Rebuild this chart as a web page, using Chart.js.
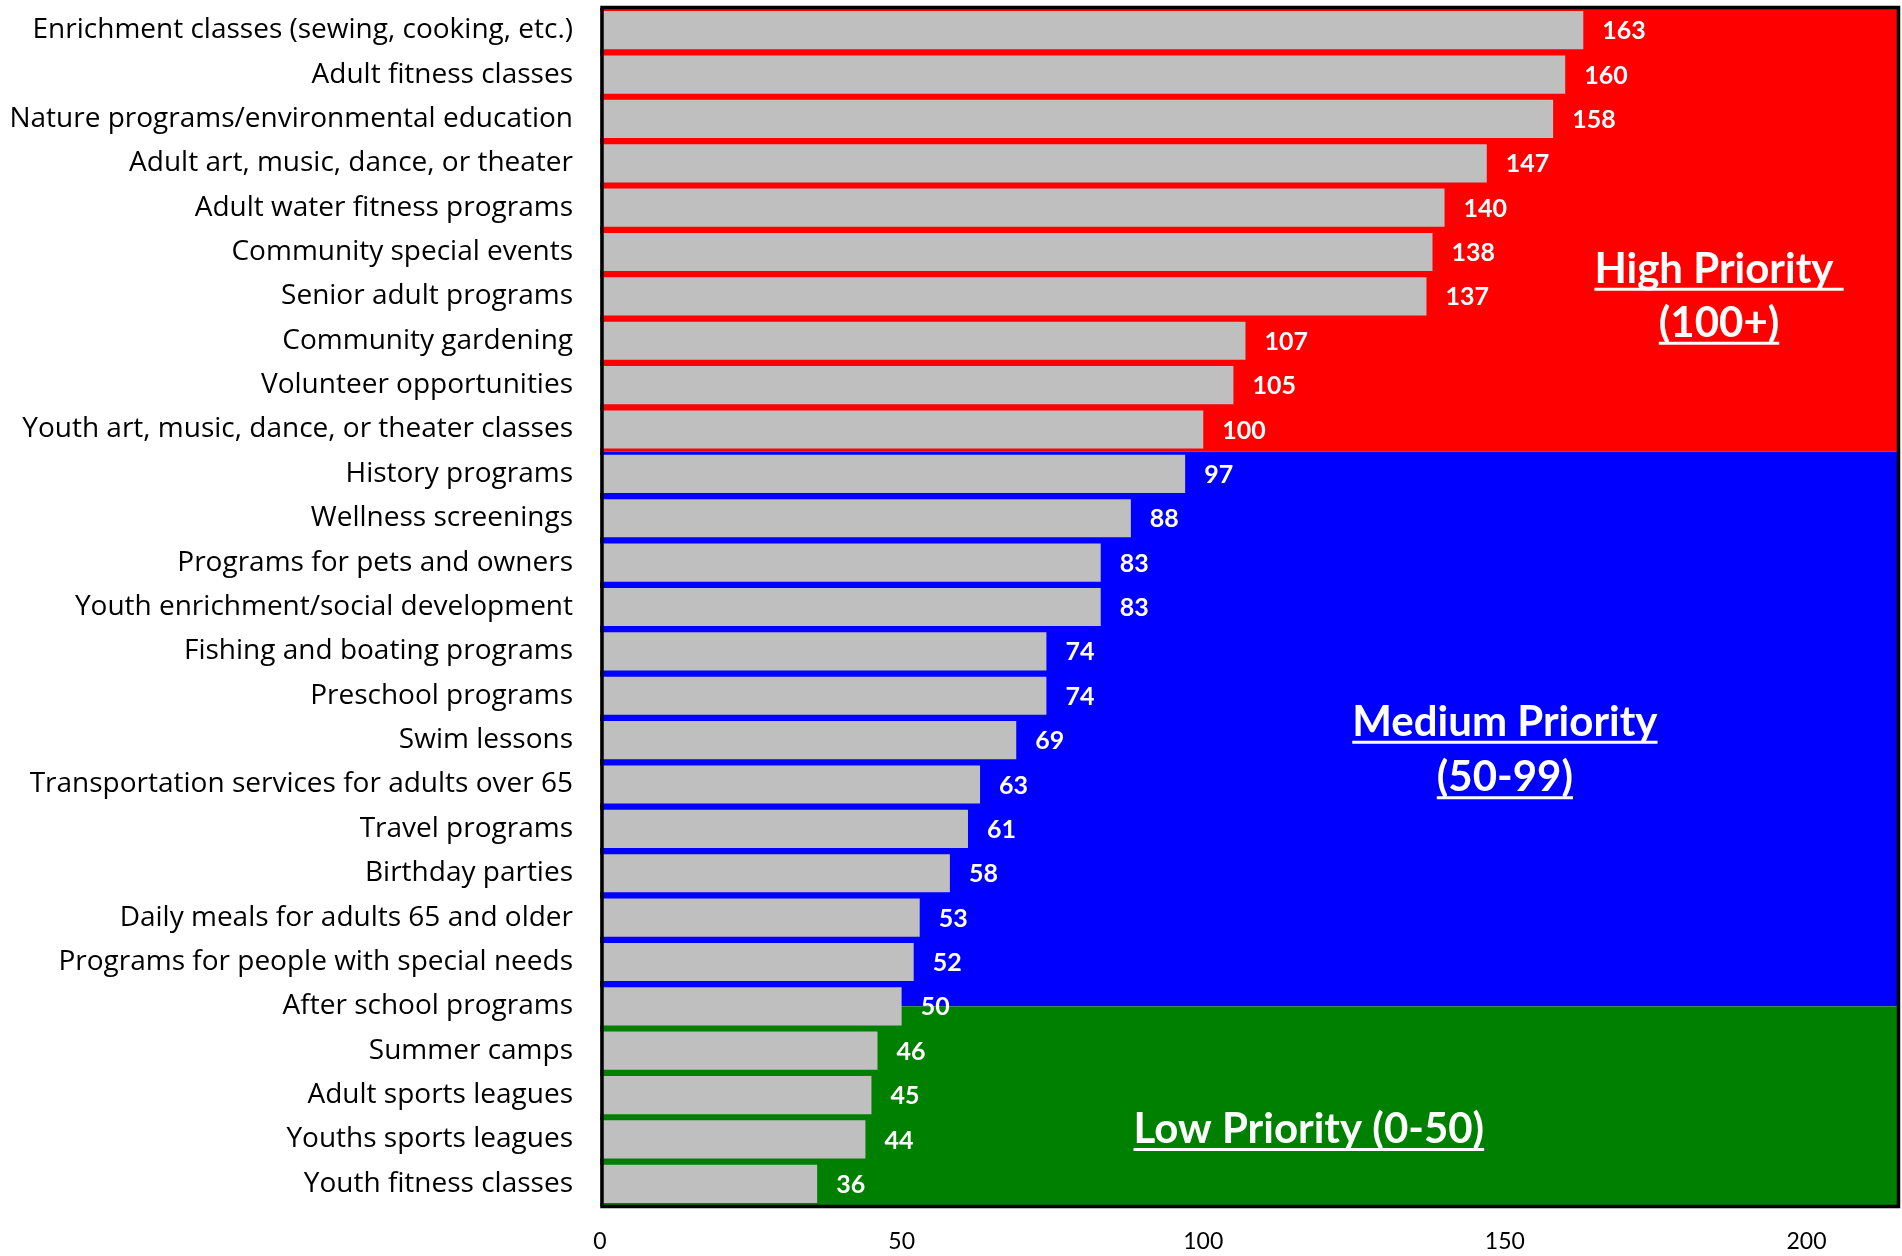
<!DOCTYPE html>
<html>
<head>
<meta charset="utf-8">
<script src="https://cdn.jsdelivr.net/npm/chart.js@4"></script>
<style>
  html, body { margin: 0; padding: 0; background: #fff; }
  #wrap { width: 1902px; height: 1256px; }
</style>
</head>
<body>
<div id="wrap"><canvas id="chart"></canvas></div>
<script>
// data
const programs = [
  'Enrichment classes (sewing, cooking, etc.)',
  'Adult fitness classes',
  'Nature programs/environmental education',
  'Adult art, music, dance, or theater',
  'Adult water fitness programs',
  'Community special events',
  'Senior adult programs',
  'Community gardening',
  'Volunteer opportunities',
  'Youth art, music, dance, or theater classes',
  'History programs',
  'Wellness screenings',
  'Programs for pets and owners',
  'Youth enrichment/social development',
  'Fishing and boating programs',
  'Preschool programs',
  'Swim lessons',
  'Transportation services for adults over 65',
  'Travel programs',
  'Birthday parties',
  'Daily meals for adults 65 and older',
  'Programs for people with special needs',
  'After school programs',
  'Summer camps',
  'Adult sports leagues',
  'Youths sports leagues',
  'Youth fitness classes'
];
const votes = [163, 160, 158, 147, 140, 138, 137, 107, 105, 100, 97, 88, 83, 83, 74, 74, 69, 63, 61, 58, 53, 52, 50, 46, 45, 44, 36];
const xTicks = [0, 50, 100, 150, 200];
const highMin = 100;
const mediumMin = 50;

const FONT = 'Lato, "Open Sans", sans-serif';
const LABEL_FONT = '"Open Sans", sans-serif';

// coloured priority bands behind the bars
const bandsPlugin = {
  id: 'bands',
  beforeDatasetsDraw(chart) {
    const { ctx, chartArea: a, scales: { y } } = chart;
    let lastHigh = -1, lastMed = -1;
    votes.forEach((v, i) => {
      if (v >= highMin) lastHigh = i;
      if (v >= mediumMin) lastMed = i;
    });
    const yHigh = (y.getPixelForValue(lastHigh) + y.getPixelForValue(lastHigh + 1)) / 2;
    const yMed = y.getPixelForValue(lastMed);
    ctx.save();
    ctx.fillStyle = '#FF0000';
    ctx.fillRect(a.left, a.top, a.width, yHigh - a.top);
    ctx.fillStyle = '#0000FF';
    ctx.fillRect(a.left, yHigh, a.width, yMed - yHigh);
    ctx.fillStyle = '#008000';
    ctx.fillRect(a.left, yMed, a.width, a.bottom - yMed);
    ctx.restore();
  }
};

// value labels, frame and priority notes
const notes = [
  { lines: ['High Priority ', '(100+)'], x: 185.5, at: [5.69, 6.91] },
  { lines: ['Medium Priority', '(50-99)'], x: 150, at: [15.9, 17.15] },
  { lines: ['Low Priority (0-50)'], x: 117.5, at: [25.08] }
];

const overlayPlugin = {
  id: 'overlay',
  afterDatasetsDraw(chart) {
    const { ctx, chartArea: a, scales: { x, y } } = chart;
    ctx.save();
    // value labels
    ctx.font = 'bold 25px ' + FONT;
    ctx.fillStyle = '#fff';
    ctx.textAlign = 'left';
    ctx.textBaseline = 'middle';
    chart.getDatasetMeta(0).data.forEach((bar, i) => {
      ctx.fillText(String(votes[i]), bar.x + 19, bar.y + 1);
    });
    // priority notes
    ctx.font = 'bold 42px ' + FONT;
    ctx.textAlign = 'center';
    ctx.textBaseline = 'alphabetic';
    ctx.strokeStyle = '#fff';
    ctx.lineWidth = 3;
    notes.forEach(n => {
      const cx = x.getPixelForValue(n.x);
      n.lines.forEach((t, k) => {
        const by = y.getPixelForValue(n.at[k]);
        ctx.fillText(t, cx, by);
        const w = ctx.measureText(t).width;
        ctx.beginPath();
        ctx.moveTo(cx - w / 2, by + 6.5);
        ctx.lineTo(cx + w / 2, by + 6.5);
        ctx.stroke();
      });
    });
    // frame
    ctx.strokeStyle = '#000';
    ctx.lineWidth = 3.5;
    ctx.strokeRect(a.left + 2, a.top - 0.5, a.width - 0.5, a.height + 1);
    ctx.restore();
  }
};

new Chart(document.getElementById('chart'), {
  type: 'bar',
  data: {
    labels: programs,
    datasets: [{
      data: votes,
      backgroundColor: '#BFBFBF',
      borderWidth: 0,
      barPercentage: 0.86,
      categoryPercentage: 1
    }]
  },
  options: {
    indexAxis: 'y',
    responsive: true,
    maintainAspectRatio: false,
    animation: false,
    layout: { padding: { top: 8, right: 5, left: 0, bottom: 0 } },
    plugins: { legend: { display: false }, tooltip: { enabled: false } },
    scales: {
      x: {
        min: 0,
        max: 215,
        grid: { display: false, drawTicks: false },
        border: { display: false },
        afterBuildTicks: s => { s.ticks = xTicks.map(v => ({ value: v })); },
        afterFit: s => { s.height = 50; s.paddingLeft = 0; s.paddingRight = 0; },
        ticks: { color: '#000', padding: 22, font: { family: FONT, size: 23 } }
      },
      y: {
        grid: { display: false, drawTicks: false },
        border: { display: false },
        afterFit: s => { s.width = 600; s.paddingTop = 0; s.paddingBottom = 0; },
        ticks: { color: '#000', padding: 27, autoSkip: false, font: { family: LABEL_FONT, size: 28 } }
      }
    }
  },
  plugins: [bandsPlugin, overlayPlugin]
});
</script>
</body>
</html>
